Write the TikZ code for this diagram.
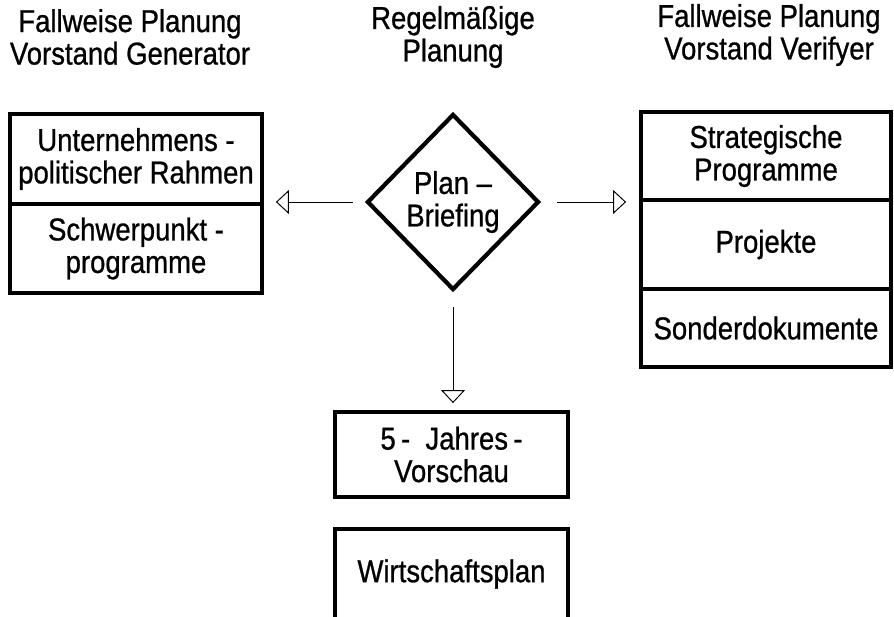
\documentclass[tikz,border=0pt]{standalone}
\usepackage{fontspec}
\setmainfont[FakeStretch=0.87,FakeBold=0.8]{Liberation Sans}
\usetikzlibrary{shapes.geometric,arrows.meta}

\tikzset{
  txt/.style={align=center,inner sep=0pt,font=\fontsize{18}{18.5}\selectfont},
  box/.style={txt,draw,line width=2.2pt},
  flow/.style={line width=0.55pt,-{Triangle[open,length=0.26cm,width=0.48cm,fill=white]}}
}

\begin{document}
\begin{tikzpicture}[x=0.02cm,y=-0.02cm]
\useasboundingbox (0,0) rectangle (894,617);
\clip (0,0) rectangle (894,617);

% headings
\node[txt] (hleft) at (130,37) {Fallweise Planung\\Vorstand Generator};
\node[txt] (hmid) at (453,37) {Regelmäßige\\Planung};
\node[txt] (hright) at (769,35) {Fallweise Planung\\Vorstand Verifyer};

% left column
\node[box,minimum width=5.04cm,minimum height=1.8cm] (rahmen) at (136,159) {Unternehmens -\\politischer Rahmen};
\node[box,minimum width=5.04cm,minimum height=1.78cm] (schwer) at (136,248.5) {Schwerpunkt -\\programme};

% middle
\node[txt,draw,diamond,line width=2.4pt,minimum width=3.44cm,minimum height=3.52cm] (plan) at (453,202) {Plan --\\Briefing};
\node[box,minimum width=4.66cm,minimum height=1.7cm] (vorschau) at (451.5,454.5) {5\,-\ \ Jahres\,-\\Vorschau};
\node[box,minimum width=4.66cm,minimum height=1.8cm] (wplan) at (451.5,574) {Wirtschaftsplan};

% right column
\node[box,minimum width=5cm,minimum height=1.76cm] (strat) at (766,156) {Strategische\\Programme};
\node[box,minimum width=5cm,minimum height=1.78cm] (proj) at (766,244.5) {Projekte};
\node[box,minimum width=5cm,minimum height=1.56cm] (sonder) at (766,328) {Sonderdokumente};

% arrows
\draw[flow,shorten <=0.24cm,shorten >=0.24cm] (plan.west) -- (plan.west -| rahmen.east);
\draw[flow,shorten <=0.32cm,shorten >=0.26cm] (plan.east) -- (plan.east -| strat.west);
\draw[flow,shorten <=0.3cm,shorten >=0.14cm] (plan.south) -- (plan.south |- vorschau.north);
\end{tikzpicture}
\end{document}
